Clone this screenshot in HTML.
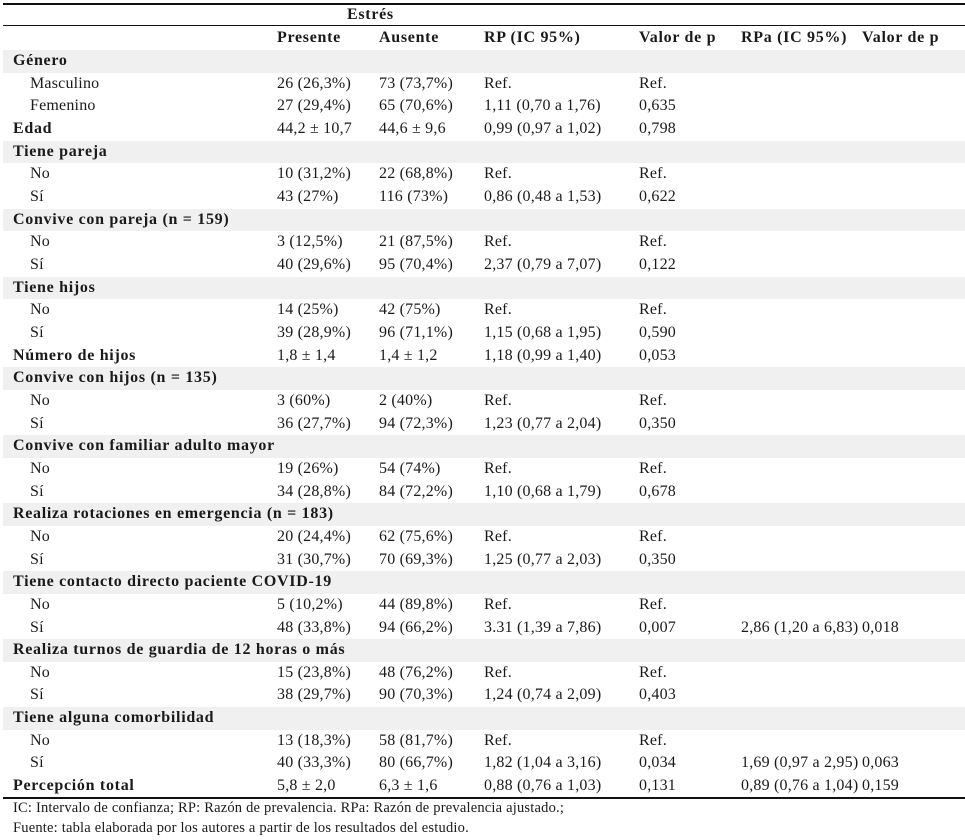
<!DOCTYPE html>
<html><head><meta charset="utf-8"><style>
body{margin:0;background:#fff;width:965px;height:838px;overflow:hidden;font-family:"Liberation Serif",serif;font-size:16px;color:#1a1a1a}
#t{position:relative;width:965px;height:838px}
.r{position:absolute;left:3px;width:962px;height:22.66px}
.sh{background:#f0f0f0}
.c{position:absolute;top:0;line-height:22.66px;white-space:nowrap;letter-spacing:0.2px}
.b{font-weight:bold;letter-spacing:0.7px}
.ln{position:absolute;left:3px;width:962px;background:#111}
</style></head><body>
<div id="t">
<div class="ln" style="top:3px;height:1.5px"></div>
<div class="c b" style="left:347px;top:4px">Estrés</div>
<div class="ln" style="top:25px;height:1px"></div>
<div class="c b" style="left:277px;top:27px">Presente</div>
<div class="c b" style="left:379px;top:27px">Ausente</div>
<div class="c b" style="left:484px;top:27px">RP (IC 95%)</div>
<div class="c b" style="left:639px;top:27px">Valor de p</div>
<div class="c b" style="left:741px;top:27px">RPa (IC 95%)</div>
<div class="c b" style="left:862px;top:27px">Valor de p</div>
<div class="ln" style="top:797px;height:1.5px"></div>
<div class="c" style="left:13px;top:797px;font-size:14.5px">IC: Intervalo de confianza; RP: Razón de prevalencia. RPa: Razón de prevalencia ajustado.;</div>
<div class="c" style="left:13px;top:817px;font-size:14.5px">Fuente: tabla elaborada por los autores a partir de los resultados del estudio.</div>
</div>
<script>
const rows=[
["h","Género"],
["s","Masculino","26 (26,3%)","73 (73,7%)","Ref.","Ref.","",""],
["s","Femenino","27 (29,4%)","65 (70,6%)","1,11 (0,70 a 1,76)","0,635","",""],
["b","Edad","44,2 ± 10,7","44,6 ± 9,6","0,99 (0,97 a 1,02)","0,798","",""],
["h","Tiene pareja"],
["s","No","10 (31,2%)","22 (68,8%)","Ref.","Ref.","",""],
["s","Sí","43 (27%)","116 (73%)","0,86 (0,48 a 1,53)","0,622","",""],
["h","Convive con pareja (n = 159)"],
["s","No","3 (12,5%)","21 (87,5%)","Ref.","Ref.","",""],
["s","Sí","40 (29,6%)","95 (70,4%)","2,37 (0,79 a 7,07)","0,122","",""],
["h","Tiene hijos"],
["s","No","14 (25%)","42 (75%)","Ref.","Ref.","",""],
["s","Sí","39 (28,9%)","96 (71,1%)","1,15 (0,68 a 1,95)","0,590","",""],
["b","Número de hijos","1,8 ± 1,4","1,4 ± 1,2","1,18 (0,99 a 1,40)","0,053","",""],
["h","Convive con hijos (n = 135)"],
["s","No","3 (60%)","2 (40%)","Ref.","Ref.","",""],
["s","Sí","36 (27,7%)","94 (72,3%)","1,23 (0,77 a 2,04)","0,350","",""],
["h","Convive con familiar adulto mayor"],
["s","No","19 (26%)","54 (74%)","Ref.","Ref.","",""],
["s","Sí","34 (28,8%)","84 (72,2%)","1,10 (0,68 a 1,79)","0,678","",""],
["h","Realiza rotaciones en emergencia (n = 183)"],
["s","No","20 (24,4%)","62 (75,6%)","Ref.","Ref.","",""],
["s","Sí","31 (30,7%)","70 (69,3%)","1,25 (0,77 a 2,03)","0,350","",""],
["h","Tiene contacto directo paciente COVID-19"],
["s","No","5 (10,2%)","44 (89,8%)","Ref.","Ref.","",""],
["s","Sí","48 (33,8%)","94 (66,2%)","3.31 (1,39 a 7,86)","0,007","2,86 (1,20 a 6,83)","0,018"],
["h","Realiza turnos de guardia de 12 horas o más"],
["s","No","15 (23,8%)","48 (76,2%)","Ref.","Ref.","",""],
["s","Sí","38 (29,7%)","90 (70,3%)","1,24 (0,74 a 2,09)","0,403","",""],
["h","Tiene alguna comorbilidad"],
["s","No","13 (18,3%)","58 (81,7%)","Ref.","Ref.","",""],
["s","Sí","40 (33,3%)","80 (66,7%)","1,82 (1,04 a 3,16)","0,034","1,69 (0,97 a 2,95)","0,063"],
["b","Percepción total","5,8 ± 2,0","6,3 ± 1,6","0,88 (0,76 a 1,03)","0,131","0,89 (0,76 a 1,04)","0,159"]
];
const colX=[274,376,481,636,738,859];
const t=document.getElementById('t');
rows.forEach((r,i)=>{
  const d=document.createElement('div');
  d.className='r'+(r[0]==='h'?' sh':'');
  d.style.top=(50+i*22.66)+'px';
  
  
  const l=document.createElement('div');
  l.className='c'+(r[0]!=='s'?' b':'');
  l.style.left=(r[0]==='s'?27:10)+'px';
  l.textContent=r[1];
  
  
  d.appendChild(l);
  for(let k=2;k<r.length;k++){
    if(!r[k])continue;
    const c=document.createElement('div');
    c.className='c';
    c.style.left=colX[k-2]+'px';
    c.textContent=r[k];
    
    
    d.appendChild(c);
  }
  t.appendChild(d);
});
</script>
</body></html>
